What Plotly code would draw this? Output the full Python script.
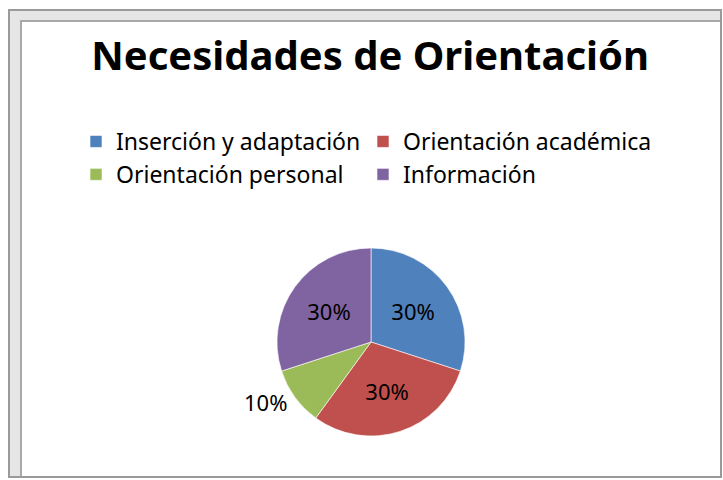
import plotly.graph_objects as go

categories = ["Inserción y adaptación", "Orientación académica", "Orientación personal", "Información"]
values = [30, 30, 10, 30]
colors = ["#4F81BD", "#C0504D", "#9BBB59", "#8064A2"]
text_positions = ["inside", "inside", "outside", "inside"]
title_text = "Necesidades de Orientación"

W, H = 723, 480
cx, cy, r = 371, 342, 94

fig = go.Figure(go.Pie(
    labels=categories,
    values=values,
    marker=dict(colors=colors, line=dict(color="rgba(255,255,255,0.6)", width=1)),
    sort=False,
    direction="clockwise",
    rotation=0,
    textinfo="percent",
    textposition=text_positions,
    insidetextorientation="horizontal",
    textfont=dict(family="Noto Sans", size=22, color="#000000"),
    domain=dict(x=[(cx - r) / W, (cx + r) / W], y=[(H - cy - r) / H, (H - cy + r) / H]),
    hoverinfo="label+percent",
))

shapes = [
    # outer frame
    dict(type="rect", xref="paper", yref="paper", x0=9 / W, x1=721 / W, y0=(H - 477) / H, y1=(H - 10) / H,
         line=dict(color="#9a9a9a", width=2), layer="below"),
    # top band
    dict(type="rect", xref="paper", yref="paper", x0=10 / W, x1=720 / W, y0=(H - 20) / H, y1=(H - 11) / H,
         fillcolor="#e6e6e6", line=dict(width=0), layer="below"),
    # left band
    dict(type="rect", xref="paper", yref="paper", x0=10 / W, x1=20 / W, y0=(H - 476) / H, y1=(H - 11) / H,
         fillcolor="#e6e6e6", line=dict(width=0), layer="below"),
    # inner lines
    dict(type="line", xref="paper", yref="paper", x0=20 / W, x1=720 / W, y0=(H - 21) / H, y1=(H - 21) / H,
         line=dict(color="#a8a8a8", width=2)),
    dict(type="line", xref="paper", yref="paper", x0=21 / W, x1=21 / W, y0=(H - 476) / H, y1=(H - 21) / H,
         line=dict(color="#a8a8a8", width=2)),
]

fig.update_layout(
    width=W, height=H,
    margin=dict(l=0, r=0, t=0, b=0),
    paper_bgcolor="white",
    plot_bgcolor="white",
    title=dict(text="<b>" + title_text + "</b>", x=0.512, xanchor="center", y=(H - 56) / H, yanchor="middle",
               font=dict(family="Noto Sans", size=40, color="#000000")),
    legend=dict(orientation="h", x=76 / W, xanchor="left", y=(H - 120) / H, yanchor="top",
                entrywidth=242, entrywidthmode="pixels",
                font=dict(family="Noto Sans", size=23, color="#000000"),
                bgcolor="rgba(0,0,0,0)", itemclick=False, itemdoubleclick=False),
    shapes=shapes,
)

fig.write_html("out.html", config={"displayModeBar": False},
               post_script="document.body.style.margin='0';document.body.style.overflow='hidden';")
